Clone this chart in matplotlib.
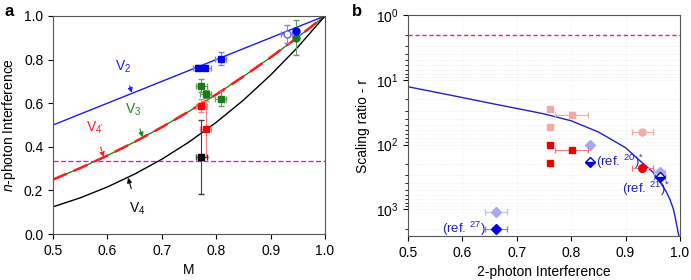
import numpy as np
import matplotlib
matplotlib.use("Agg")
from matplotlib import pyplot as plt

plt.rcParams['font.family'] = ['Liberation Sans', 'DejaVu Sans']
plt.rcParams['mathtext.fontset'] = 'custom'
plt.rcParams['mathtext.rm'] = 'Liberation Sans'
plt.rcParams['mathtext.it'] = 'Liberation Sans:italic'
plt.rcParams['font.size'] = 10

# ---- panel a data ----
M_grid = [0.5, 0.55, 0.6, 0.65, 0.7, 0.75, 0.8, 0.85, 0.9, 0.95, 1.0]
V2_curve = [0.5, 0.55, 0.6, 0.65, 0.7, 0.75, 0.8, 0.85, 0.9, 0.95, 1.0]
V3_curve = [0.25, 0.3025, 0.36, 0.4225, 0.49, 0.5625, 0.64, 0.7225, 0.81, 0.9025, 1.0]
V4_curve = [0.125, 0.166, 0.216, 0.275, 0.343, 0.422, 0.512, 0.614, 0.729, 0.857, 1.0]
third_line = 0.333

blue_sq_M = [0.767, 0.78, 0.808]
blue_sq_V = [0.763, 0.763, 0.803]
blue_sq_yerr = [0.01, 0.01, 0.03]
green_sq_M = [0.773, 0.781, 0.808]
green_sq_V = [0.68, 0.642, 0.62]
green_sq_yerr = [0.03, 0.02, 0.035]
red_sq_M = [0.773, 0.781]
red_sq_V = [0.589, 0.482]
red_sq_yerr = [0.03, 0.13]
black_sq_M = [0.773]
black_sq_V = [0.353]
black_sq_yerr = [0.17]
blue_circ_M, blue_circ_V = 0.947, 0.93
open_circ_M, open_circ_V = 0.93, 0.917
green_circ_M, green_circ_V = 0.947, 0.90

# ---- panel b data ----
tpi_curve = [0.5, 0.55, 0.6, 0.65, 0.7, 0.75, 0.8, 0.85, 0.9, 0.93, 0.95,
             0.963, 0.975, 0.982, 0.988, 0.991, 0.994, 0.997, 0.999]
r_curve = [12.8, 15.5, 18.8, 22.9, 27.7, 33.6, 43, 64, 112, 190, 265,
           377, 540, 720, 1000, 1300, 1750, 2350, 2800]
r_limit = 2.0

pink_sq_x = [0.761, 0.761, 0.801]
pink_sq_r = [28, 54, 35]
pink_circ_x, pink_circ_r = 0.931, 63
red_sq_x = [0.761, 0.761, 0.801]
red_sq_r = [102, 196, 122]
red_circ_x, red_circ_r = 0.931, 229
lb_dia_x = [0.835, 0.963, 0.662]
lb_dia_r = [100, 270, 1100]
half_dia_x = [0.835, 0.963]
half_dia_r = [185, 315]
db_dia_x, db_dia_r = 0.662, 2000

fig = plt.figure(figsize=(6.91, 2.8), dpi=100)
ax = fig.add_axes([0.0767, 0.164, 0.3936, 0.779])
bx = fig.add_axes([0.5904, 0.157, 0.3936, 0.789])

# ---------------- panel a ----------------
ax.plot(M_grid, V2_curve, color='#1a1aff', lw=1)
ax.plot(M_grid, V3_curve, color='#1a8a1a', lw=1)
ax.plot(M_grid, V3_curve, color='#ff1a1a', lw=1.8, dashes=(6, 3))
ax.plot(M_grid, V4_curve, color='black', lw=1)
ax.axhline(third_line, color='#ee00ee', lw=0.9, ls=(0, (4, 2)))

ms = 5
ax.errorbar(blue_sq_M, blue_sq_V, yerr=blue_sq_yerr, xerr=0.01, fmt='s', ms=ms,
            color='#0000ee', ecolor='#8080ff', elinewidth=0.8, capsize=2, zorder=5)
ax.errorbar(green_sq_M, green_sq_V, yerr=green_sq_yerr, xerr=0.01, fmt='s', ms=ms,
            color='#1a7a1a', ecolor='#60a060', elinewidth=0.8, capsize=2, zorder=5)
ax.errorbar(red_sq_M, red_sq_V, yerr=red_sq_yerr, xerr=0.01, fmt='s', ms=ms,
            color='#ff0000', ecolor='#ff8080', elinewidth=0.8, capsize=2, zorder=5)
ax.errorbar(black_sq_M, black_sq_V, yerr=black_sq_yerr, xerr=0.01, fmt='s', ms=ms,
            color='black', ecolor='#404040', elinewidth=0.8, capsize=2, zorder=5)
ax.errorbar([open_circ_M], [open_circ_V], yerr=0.04, xerr=0.01, fmt='o', ms=ms,
            mfc='white', mec='#6060ff', ecolor='#8080ff', elinewidth=0.8, capsize=2, zorder=5)
ax.errorbar([green_circ_M], [green_circ_V], yerr=0.08, fmt='o', ms=ms,
            color='#1a7a1a', ecolor='#60a060', elinewidth=0.8, capsize=2, zorder=5)
ax.errorbar([blue_circ_M], [blue_circ_V], yerr=0.01, fmt='o', ms=ms,
            color='#0000ee', ecolor='#8080ff', elinewidth=0.8, capsize=2, zorder=6)

ax.annotate('V$_2$', xy=(0.645, 0.648), xytext=(0.629, 0.766), color='#1a1aff',
            fontsize=10, ha='center', va='center',
            arrowprops=dict(arrowstyle='-|>', color='#1a1aff', lw=0.8, mutation_scale=7,
                            shrinkA=6, shrinkB=0))
ax.annotate('V$_3$', xy=(0.665, 0.444), xytext=(0.648, 0.569), color='#1a8a1a',
            fontsize=10, ha='center', va='center',
            arrowprops=dict(arrowstyle='-|>', color='#1a8a1a', lw=0.8, mutation_scale=7,
                            shrinkA=6, shrinkB=0))
ax.annotate("V$_{4'}$", xy=(0.593, 0.353), xytext=(0.577, 0.486), color='#ff1a1a',
            fontsize=10, ha='center', va='center',
            arrowprops=dict(arrowstyle='-|>', color='#ff1a1a', lw=0.8, ls='--',
                            mutation_scale=7, shrinkA=6, shrinkB=0))
ax.annotate('V$_4$', xy=(0.638, 0.258), xytext=(0.655, 0.115), color='black',
            fontsize=10, ha='center', va='center',
            arrowprops=dict(arrowstyle='-|>', color='black', lw=0.8, mutation_scale=7,
                            shrinkA=7, shrinkB=0))

ax.set_xlim(0.5, 1.0)
ax.set_ylim(0.0, 1.0)
ax.set_xticks([0.5, 0.6, 0.7, 0.8, 0.9, 1.0])
ax.set_yticks([0.0, 0.2, 0.4, 0.6, 0.8, 1.0])
ax.set_xlabel('M')
ax.set_ylabel('$n$-photon Interference')
for s in ax.spines.values():
    s.set_color('#555555')

# ---------------- panel b ----------------
bx.set_yscale('log')
bx.grid(True, which='both', color='#e6e6e6', lw=0.5, ls=':')
bx.plot(tpi_curve, r_curve, color='#2020d0', lw=1)
bx.axhline(r_limit, color='#ff2040', lw=1, ls=(0, (3, 2)))

bx.errorbar(pink_sq_x, pink_sq_r, xerr=[0, 0, 0.03], fmt='s', ms=ms,
            color='#f5a8a8', ecolor='#f5a8a8', elinewidth=0.8, capsize=2, zorder=4)
bx.errorbar([pink_circ_x], [pink_circ_r], xerr=0.02, fmt='o', ms=ms,
            color='#f5a8a8', ecolor='#f5a8a8', elinewidth=0.8, capsize=2, zorder=4)
bx.errorbar(red_sq_x, red_sq_r, xerr=[0, 0, 0.03], fmt='s', ms=ms,
            color='#ee0000', ecolor='#f08080', elinewidth=0.8, capsize=2, zorder=5)
bx.errorbar([red_circ_x], [red_circ_r], xerr=0.02, fmt='o', ms=ms + 0.5,
            color='#ee0000', ecolor='#f08080', elinewidth=0.8, capsize=2, zorder=5)
bx.errorbar(lb_dia_x, lb_dia_r, xerr=[0, 0.01, 0.02], fmt='D', ms=5,
            color='#a8a8f0', ecolor='#c0c0f4', elinewidth=0.8, capsize=2, zorder=4)
bx.errorbar(half_dia_x, half_dia_r, xerr=[0, 0.01], fmt='D', ms=5,
            color='#0000dd', mfc='#0000dd', mfcalt='white', fillstyle='bottom',
            ecolor='#8080ee', elinewidth=0.8, capsize=2, zorder=5)
bx.errorbar([db_dia_x], [db_dia_r], xerr=0.02, fmt='D', ms=5.5,
            color='#0000dd', ecolor='#8080ee', elinewidth=0.8, capsize=2, zorder=5)

bx.text(0.846, 185, '(ref. $^{20}$)$^{*}$', color='#2020c0', fontsize=9.5,
        ha='left', va='center')
bx.text(0.938, 480, '(ref. $^{21}$)$^{*}$', color='#2020c0', fontsize=9.5,
        ha='center', va='center')
bx.text(0.642, 2000, '(ref. $^{27}$)', color='#2020c0', fontsize=9.5,
        ha='right', va='center')

bx.set_xlim(0.5, 1.0)
bx.set_ylim(2600, 1)
bx.set_xticks([0.5, 0.6, 0.7, 0.8, 0.9, 1.0])
bx.set_xlabel('2-photon Interference')
bx.set_ylabel('Scaling ratio - r')
for s in bx.spines.values():
    s.set_color('#555555')

fig.text(0.007, 0.985, 'a', fontsize=12, fontweight='bold', va='top')
fig.text(0.509, 0.985, 'b', fontsize=12, fontweight='bold', va='top')

fig.savefig('out.png', dpi=100)
